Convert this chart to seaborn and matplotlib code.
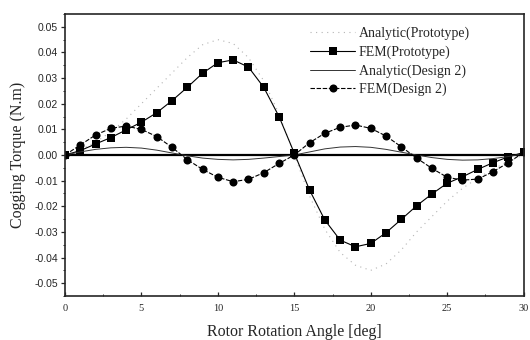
import numpy as np
import pandas as pd
import seaborn as sns
from matplotlib import pyplot as plt

# rotor angle in degrees, one point per degree
angle = list(range(31))

analytic_proto = [0.0, 0.002, 0.005, 0.009, 0.014, 0.020, 0.026, 0.032, 0.038, 0.043,
                  0.045, 0.0435, 0.038, 0.029, 0.016, 0.0, -0.016, -0.029, -0.038, -0.043,
                  -0.045, -0.0425, -0.037, -0.030, -0.024, -0.018, -0.013, -0.009, -0.0055,
                  -0.0025, 0.0]
fem_proto = [0.0, 0.0017, 0.0043, 0.0068, 0.0098, 0.0128, 0.0165, 0.0212, 0.0264, 0.0319,
             0.036, 0.0371, 0.0343, 0.0264, 0.015, 0.0007, -0.0137, -0.0254, -0.0332, -0.0358,
             -0.0345, -0.0303, -0.0251, -0.0198, -0.0152, -0.011, -0.0085, -0.0056, -0.003,
             -0.0007, 0.001]
analytic_d2 = [0.0, 0.0012, 0.0022, 0.0028, 0.003, 0.0027, 0.0019, 0.0008, -0.0003, -0.0012,
               -0.0017, -0.0019, -0.0017, -0.0012, -0.0006, 0.0, 0.0012, 0.0024, 0.0031, 0.0033,
               0.003, 0.0022, 0.0011, 0.0, -0.001, -0.0017, -0.002, -0.0019, -0.0014, -0.0006,
               0.0005]
fem_d2 = [0.0, 0.0039, 0.0078, 0.0104, 0.0113, 0.010, 0.0072, 0.003, -0.0018, -0.0056,
          -0.0087, -0.0104, -0.0095, -0.0069, -0.0033, 0.0, 0.0048, 0.0085, 0.0108, 0.0117,
          0.0104, 0.0074, 0.0032, -0.0012, -0.0052, -0.0087, -0.0098, -0.0094, -0.0065,
          -0.003, 0.001]

xticks = [0, 5, 10, 15, 20, 25, 30]
yticks = [-0.05, -0.04, -0.03, -0.02, -0.01, 0.0, 0.01, 0.02, 0.03, 0.04, 0.05]

df = pd.DataFrame({'angle': angle, 'ap': analytic_proto, 'fp': fem_proto,
                   'ad': analytic_d2, 'fd': fem_d2})

sns.set_style('ticks')
plt.rcParams['font.family'] = ['Liberation Serif', 'DejaVu Serif']

fig = plt.figure(figsize=(5.3, 3.4), dpi=100)
ax = fig.add_axes([0.1226, 0.1294, 0.8654, 0.8294])

ax.axhline(0, color='black', lw=1.6, zorder=1)

sns.lineplot(data=df, x='angle', y='ap', ax=ax, color='#b4b4b4', lw=0.8,
             linestyle=(0, (1, 4)), label='Analytic(Prototype)')
sns.lineplot(data=df, x='angle', y='fp', ax=ax, color='black', lw=0.8, marker='s',
             markersize=5.8, markeredgewidth=0, label='FEM(Prototype)')
sns.lineplot(data=df, x='angle', y='ad', ax=ax, color='#333333', lw=0.7,
             label='Analytic(Design 2)')
sns.lineplot(data=df, x='angle', y='fd', ax=ax, color='black', lw=0.8, marker='o',
             markersize=5.8, markeredgewidth=0, linestyle=(0, (4, 1.5)), label='FEM(Design 2)')

ax.set_xlim(0, 30)
ax.set_ylim(-0.055, 0.055)
ax.set_xticks(xticks)
ax.set_xticklabels([str(t) for t in xticks], fontsize=7.5)
ax.set_yticks(yticks)
ax.set_yticklabels([f'{t:.2f}' for t in yticks], fontsize=7.5, family='Liberation Sans')
ax.set_yticks(np.arange(-0.055, 0.056, 0.005), minor=True)
ax.set_xticks(np.arange(0, 31, 2.5), minor=True)
ax.tick_params(axis='y', which='major', direction='out', length=3, width=0.9, pad=2)
ax.tick_params(axis='y', which='minor', direction='out', length=1.5, width=0.7)
ax.tick_params(axis='x', which='major', direction='in', length=3, width=0.9, pad=6)
ax.tick_params(axis='x', which='minor', direction='in', length=1.5, width=0.7)
for s in ax.spines.values():
    s.set_linewidth(1.2)

ax.set_xlabel('Rotor Rotation Angle [deg]', fontsize=11.5, labelpad=8)
ax.set_ylabel('Cogging Torque (N.m)', fontsize=11.5, labelpad=6)

ax.legend(loc='upper left', bbox_to_anchor=(0.535, 0.955), frameon=False, fontsize=10,
          handlelength=3.2, handletextpad=0.3, labelspacing=0.38, borderpad=0,
          borderaxespad=0)

fig.savefig('out.png', dpi=100)
